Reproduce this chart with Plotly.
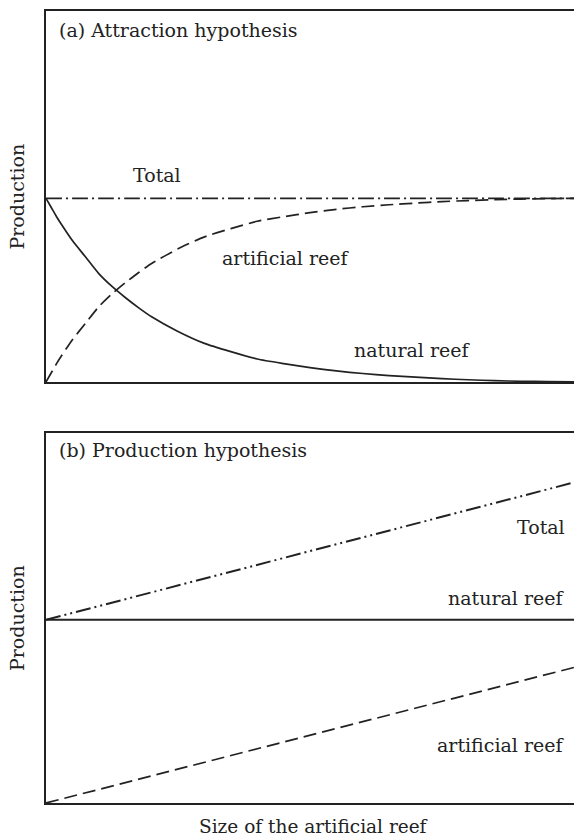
import plotly.graph_objects as go

# ---- data ----
# Panel (a): attraction hypothesis
a_x = [0, 0.1, 0.2, 0.3, 0.5, 0.75, 1, 1.25, 1.5, 1.75, 2, 2.5, 3, 3.5, 4, 4.5,
       5, 5.5, 6, 6.5, 7, 7.5, 8, 8.5, 9, 9.5, 10]
a_natural = [1.0, 0.95, 0.9, 0.855, 0.77, 0.68, 0.59, 0.52, 0.46, 0.405, 0.355, 0.275,
             0.21, 0.165, 0.125, 0.1, 0.078, 0.06, 0.046, 0.035, 0.026, 0.018, 0.012,
             0.007, 0.004, 0.002, 0.0]
a_artificial = [0.0, 0.05, 0.1, 0.145, 0.23, 0.32, 0.41, 0.48, 0.54, 0.595, 0.645, 0.725,
                0.79, 0.835, 0.875, 0.9, 0.922, 0.94, 0.954, 0.965, 0.974, 0.982, 0.988,
                0.993, 0.996, 0.998, 1.0]
a_total = [1.0] * len(a_x)

# Panel (b): production hypothesis
b_x = [0, 10]
b_natural = [1.0, 1.0]
b_artificial = [0.0, 0.74]
b_total = [1.0, 1.75]

FONT = "DejaVu Serif"
INK = "#222222"
FS = 19

fig = go.Figure()

def add(x, y, dash, xa, ya, width=1.7):
    fig.add_trace(go.Scatter(x=x, y=y, mode="lines", xaxis=xa, yaxis=ya,
                             line=dict(color=INK, width=width, dash=dash, shape="spline", smoothing=0.6),
                             showlegend=False, hoverinfo="skip"))

add(a_x, a_total, "16px,4px,2px,4px", "x", "y")
add(a_x, a_artificial, "13px,6px", "x", "y")
add(a_x, a_natural, "solid", "x", "y")

add(b_x, b_total, "15px,4px,2px,4px,2px,4px", "x2", "y2", 2.0)
add(b_x, b_natural, "solid", "x2", "y2", 2.0)
add(b_x, b_artificial, "13px,6px", "x2", "y2", 1.7)

axis_common = dict(showgrid=False, zeroline=False, showticklabels=False, ticks="",
                   showline=True, linecolor=INK, linewidth=1.5)

fig.update_layout(
    width=574, height=838,
    margin=dict(l=46, r=0, t=11, b=35),
    paper_bgcolor="white", plot_bgcolor="white",
    font=dict(family=FONT, size=FS, color=INK),
    xaxis=dict(domain=[0, 1], range=[0, 10], anchor="y", mirror=True, **axis_common),
    yaxis=dict(domain=[0.5316, 1], range=[0, 2.02], anchor="x", mirror=False, **axis_common),
    xaxis2=dict(domain=[0, 1], range=[0, 10], anchor="y2", mirror=True, **axis_common),
    yaxis2=dict(domain=[0, 0.4672], range=[0, 2.02], anchor="x2", mirror=False, **axis_common),
)

def label(text, x, y, xref, yref, xanchor="center", yanchor="middle", angle=0, size=FS):
    fig.add_annotation(text=text, x=x, y=y, xref=xref, yref=yref, showarrow=False,
                       xanchor=xanchor, yanchor=yanchor, textangle=angle,
                       font=dict(family=FONT, size=size, color=INK))

# panel (a) labels
label("(a) Attraction hypothesis", 0.21, 1.916, "x", "y", xanchor="left")
label("Total", 2.10, 1.127, "x", "y")
label("artificial reef", 4.55, 0.675, "x", "y")
label("natural reef", 6.94, 0.174, "x", "y")

# panel (b) labels
label("(b) Production hypothesis", 0.21, 1.927, "x2", "y2", xanchor="left")
label("Total", 9.87, 1.507, "x2", "y2", xanchor="right")
label("natural reef", 9.87, 1.119, "x2", "y2", xanchor="right")
label("artificial reef", 9.87, 0.317, "x2", "y2", xanchor="right")

# axis titles
label("Production", -0.0549, (0.5316 + 1) / 2, "paper", "paper", angle=-90)
label("Production", -0.0549, 0.4672 / 2, "paper", "paper", angle=-90)
label("Size of the artificial reef", 0.506, -0.0295, "paper", "paper", size=18.5)

fig.write_html("out.html", config={"displayModeBar": False},
               post_script="document.body.style.margin='0px';document.body.style.padding='0px';")
